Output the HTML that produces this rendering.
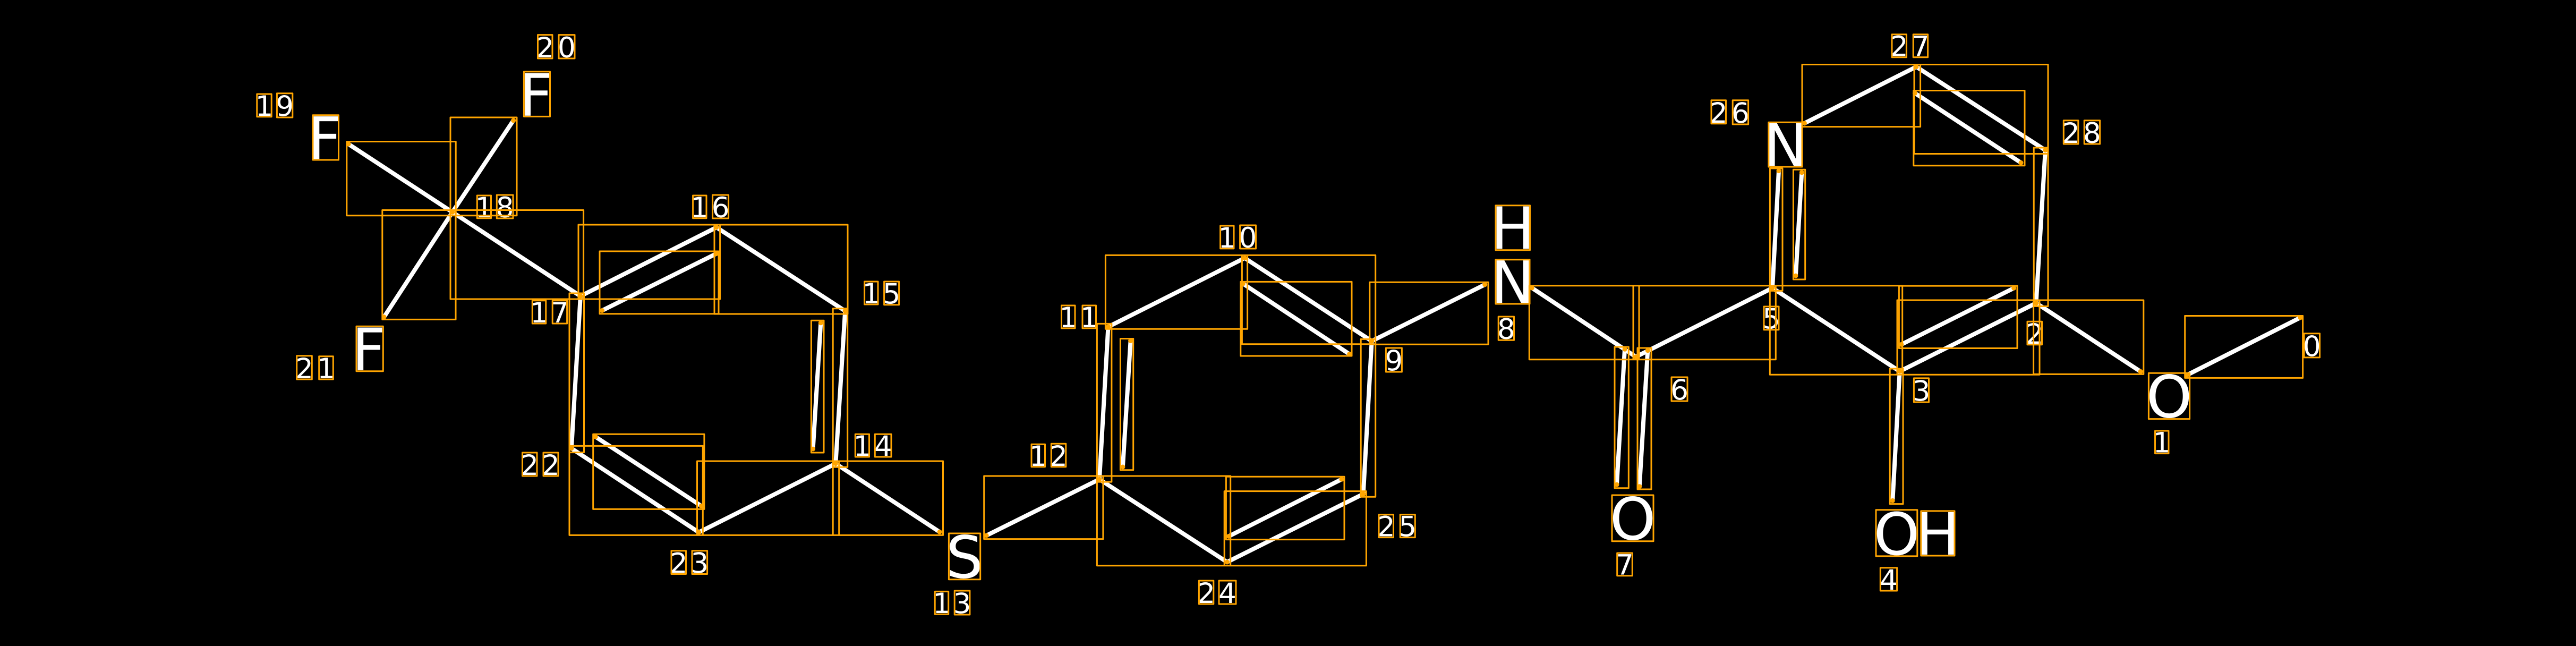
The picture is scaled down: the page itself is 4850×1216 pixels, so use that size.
<!DOCTYPE html>
<html><head><meta charset="utf-8"><style>
html,body{margin:0;padding:0;background:#000;width:4850px;height:1216px;overflow:hidden}
svg{display:block}
text{font-family:"DejaVu Sans",sans-serif;fill:#fff;text-anchor:middle}
.d{font-size:53px}.b{font-size:110px}
</style></head><body>
<svg xmlns="http://www.w3.org/2000/svg" width="4850" height="1216" viewBox="0 0 4850 1216">
<rect width="4850" height="1216" fill="#000"/>
<path fill="none" stroke="#fff" stroke-width="8" stroke-linecap="round" d="
M4331.1 597.8L4117.5 706M3833.7 570.5L4030.1 699.4M3833.5 570.5L3576.7 699M3791.6 542.3L3579.8 648.4M3576.7 699L3563.3 942.4M3337 542L3576.7 699M3337.3 542L3080 671.7M3059 657.3L3044 912.3M3102.3 659.7L3086.7 915.7M2884.3 542L3080 671.7M2795.7 535.7L2582.7 642M3349 321.6L3337 542M3392.3 324.7L3380.9 519.1M3397.4 232L3607.9 125.7M3607.9 125.7L3850.9 282.6M3605.4 175.4L3805 306.3M3850.9 282.6L3833.5 570.5
M2582.7 642L2343.5 485.7M2340.3 533.9L2540.6 666.5M2343.5 485.7L2086.5 615.2M2086.5 615.2L2069.9 902.2M2128.6 641.5L2113.9 879M2069.9 902.2L2310.3 1058M2310.3 1058L2566.7 929.9M2525.9 902.2L2313.5 1009.4M2566.7 929.9L2582.7 642M2069.9 902.2L1857.1 1008.1
M1769.1 1001.3L1573.3 872.7M1573.3 872.7L1315.7 1002M1315.7 1002L1075.9 844M1121.2 822.2L1320.2 952.3M1075.9 844L1092.9 557.4M1573.3 872.7L1591.2 585.3M1545.3 607.8L1530.6 845.1M1591.2 585.3L1349 428M1349 428L1092.9 557.4M1348 477.8L1133.7 584.5M1092.9 557.4L851.8 399.3M851.8 399.3L656 271.1M851.8 399.3L966.6 226.7M851.8 399.3L723 596.8"/>
<g class="d">
<text class="d" x="4352.75" y="670.5">0</text>
<text class="d" x="4070.25" y="851.6">1</text>
<text class="d" x="3830.75" y="646.8">2</text>
<text class="d" x="3617.45" y="754.5">3</text>
<text class="d" x="3555.95" y="1110">4</text>
<text class="d" x="3335" y="618.5">5</text>
<text class="d" x="3162" y="752.5">6</text>
<text class="d" x="3059" y="1081.7">7</text>
<text class="d" x="2835.85" y="638">8</text>
<text class="d" x="2624.4" y="697.5">9</text>
<text class="d" x="2310.3" y="465.9">1</text><text class="d" x="2349.55" y="466">0</text>
<text class="d" x="2011.25" y="615.9">1</text><text class="d" x="2050.75" y="615.9">1</text>
<text class="d" x="1954.75" y="876.8">1</text><text class="d" x="1993.05" y="876.8">2</text>
<text class="d" x="1772.95" y="1154.2">1</text><text class="d" x="1811.55" y="1154.5">3</text>
<text class="d" x="1623.4" y="858">1</text><text class="d" x="1662.65" y="858">4</text>
<text class="d" x="1640.3" y="571">1</text><text class="d" x="1678.6" y="571.5">5</text>
<text class="d" x="1317.3" y="408.8">1</text><text class="d" x="1356.6" y="408.8">6</text>
<text class="d" x="1015" y="607">1</text><text class="d" x="1053.9" y="607">7</text>
<text class="d" x="911.4" y="408.8">1</text><text class="d" x="950.65" y="408.8">8</text>
<text class="d" x="497.5" y="217.8">1</text><text class="d" x="536.1" y="218.5">9</text>
<text class="d" x="1026.25" y="108">2</text><text class="d" x="1067" y="108">0</text>
<text class="d" x="573" y="712">2</text><text class="d" x="614" y="712">1</text>
<text class="d" x="997.25" y="894">2</text><text class="d" x="1037" y="894">2</text>
<text class="d" x="1277.75" y="1078.5">2</text><text class="d" x="1317.3" y="1078.3">3</text>
<text class="d" x="2271.1" y="1135">2</text><text class="d" x="2311" y="1135">4</text>
<text class="d" x="2609.75" y="1009.6">2</text><text class="d" x="2650.25" y="1009.5">5</text>
<text class="d" x="3235.75" y="230.8">2</text><text class="d" x="3276.9" y="231.5">6</text>
<text class="d" x="3575.7" y="105.7">2</text><text class="d" x="3615.9" y="105.7">7</text>
<text class="d" x="3899.05" y="269">2</text><text class="d" x="3938.9" y="269">8</text>
<text class="b" x="611.25" y="299">F</text>
<text class="b" x="1009" y="217.4">F</text>
<text class="b" x="694.2" y="696.7">F</text>
<text class="b" x="1816" y="1087.5">S</text>
<text class="b" x="2848.25" y="468.7">H</text>
<text class="b" x="2848" y="570">N</text>
<text class="b" x="3074" y="1015.5">O</text>
<text class="b" x="4084" y="785.5">O</text>
<text class="b" x="3570.9" y="1043.8">O</text>
<text class="b" x="3648.4" y="1044">H</text>
<text class="b" x="3361.4" y="312">N</text>
</g>
<path fill="none" stroke="#ffa500" stroke-width="3" stroke-linejoin="round" d="
M4113.7 594.5H4335.6V711.4H4113.7ZM3828.6 565H4035.8V704.4H3828.6ZM3572 565H3840V705.2H3572ZM3575.4 538.1H3798V655.5H3575.4ZM3558.2 694H3583V948.6H3558.2ZM3332.3 537.7H3581.7V705.3H3332.3ZM3075 537.7H3343.3V676.7H3075ZM3040 653H3066.3V918.7H3040ZM3083 655H3109V921H3083ZM2879.3 537.7H3086V676.7H2879.3ZM2578.8 531.3H2802V648.2H2578.8ZM3332.4 317H3356V547.4H3332.4ZM3376.4 319.3H3398.7V526H3376.4ZM3393 121.5H3615.6V238.6H3393ZM3604 121.5H3856V289.5H3604ZM3602.8 170.5H3812V311.7H3602.8ZM3829.2 278H3856V576.5H3829.2Z
M2338.4 480.4H2589.7V647.8H2338.4ZM2335.8 530.4H2545V670H2335.8ZM2081.4 480.4H2348.6V619.2H2081.4ZM2065.4 609.4H2092.9V907.1H2065.4ZM2109.4 637.5H2133.7V884.8H2109.4ZM2065.4 896H2316.7V1064.7H2065.4ZM2305.2 924.6H2572.4V1064.7H2305.2ZM2308.4 897.3H2531V1015.6H2308.4ZM2562.2 638.4H2589.7V935.3H2562.2ZM1852.7 896H2076.9V1014.6H1852.7Z
M1568.2 868H1775.5V1007.4H1568.2ZM1312.5 868H1579.7V1007.4H1312.5ZM1072 839.4H1323.3V1007.4H1072ZM1116.7 817.2H1325.9V958.4H1116.7ZM1072 552H1099.5V851.6H1072ZM1568.2 580.7H1595.7V879.2H1568.2ZM1527.4 603.2H1551V852H1527.4ZM1345 423H1596V591H1345ZM1089 423H1355.6V563H1089ZM1129 473H1353V590.7H1129ZM848 395.5H1098.6V563H848ZM652.8 266.5H858.2V405.8H652.8ZM848 221H973V405.8H848ZM719.8 395.5H858V601.4H719.8Z
M4338 627.7H4367.5V672.9H4338ZM4057.5 811H4083V853.6H4057.5ZM3817 605.3H3844.5V648.8H3817ZM3603.4 711.9H3631.5V757H3603.4ZM3540.3 1068.8H3571.6V1112H3540.3ZM3321 577H3349V620.7H3321ZM3147 710H3177V755H3147ZM3044.7 1041H3073.3V1083.7H3044.7ZM2821.2 596H2850.5V640.2H2821.2ZM2609.4 655H2639.4V700H2609.4Z
M2297.6 425H2323V467.9H2297.6ZM2334.6 424H2364.5V468H2334.6ZM1998.5 575H2024V617.9H1998.5ZM2038 575H2063.5V617.9H2038ZM1942 836.3H1967.5V878.8H1942ZM1979.3 835.3H2006.8V878.8H1979.3ZM1760.2 1113.4H1785.7V1156.2H1760.2ZM1797.2 1112H1825.9V1157H1797.2ZM1610.3 817.2H1636.5V860H1610.3ZM1647.3 817.2H1678V860H1647.3ZM1627.6 530H1653V573H1627.6ZM1664.6 530H1692.6V573.8H1664.6ZM1304.6 368H1330V410.8H1304.6ZM1341.6 367H1371.6V411H1341.6ZM1002.3 565.8H1027.8V609H1002.3ZM1040.2 565.8H1067.6V609H1040.2ZM898.3 368H924.5V410.8H898.3ZM935.3 367H966V411H935.3ZM483.8 177H511.2V219.8H483.8ZM521.4 175.8H550.8V221H521.4Z
M1012.5 65.6H1040V110H1012.5ZM1052 65.6H1082V110H1052ZM558.7 669.7H587.3V714H558.7ZM600.7 670.7H627.3V714H600.7ZM983.5 852H1011V896H983.5ZM1023 852H1051V896H1023ZM1264 1036.8H1291.5V1080.5H1264ZM1303 1036.8H1331.6V1080.5H1303ZM2257.4 1093H2284.8V1137H2257.4ZM2295 1093H2327V1137H2295ZM2596 968.8H2623.5V1011.6H2596ZM2636.2 968.8H2664.3V1011.6H2636.2ZM3222 188.8H3249.5V232.8H3222ZM3262.2 188.8H3291.6V234H3262.2ZM3562 64.8H3589.4V107.7H3562ZM3602.2 64.8H3629.6V107.7H3602.2ZM3885.3 226.7H3912.8V271H3885.3ZM3924.2 226.7H3953.6V271H3924.2Z
M589 216.8H637.5V301H589ZM986.4 134.9H1035.5V219.4H986.4ZM671 614.3H721.3V698.7H671ZM1786.4 1004H1845.7V1090.8H1786.4ZM2816 386.7H2880.5V470.7H2816ZM2816 488.7H2880V572H2816ZM3035 932H3113V1018.7H3035ZM4045.4 702.3H4122.6V788.6H4045.4ZM3532 959.8H3609.8V1046.9H3532ZM3616.8 961.9H3680V1046H3616.8ZM3329.8 230.2H3393V314H3329.8Z"/>
<path fill="none" stroke="#ffa500" stroke-width="9" stroke-linecap="round" d="
M4331.1 597.8h0M4117.5 706h0M3833.7 570.5h0M4030.1 699.4h0M3576.7 699h0M3791.6 542.3h0M3579.8 648.4h0M3563.3 942.4h0M3337 542h0M3080 671.7h0M3059 657.3h0M3044 912.3h0M3102.3 659.7h0M3086.7 915.7h0M2884.3 542h0M2795.7 535.7h0M2582.7 642h0M3349 321.6h0M3392.3 324.7h0M3380.9 519.1h0M3397.4 232h0M3607.9 125.7h0M3850.9 282.6h0M3605.4 175.4h0M3805 306.3h0
M2343.5 485.7h0M2340.3 533.9h0M2540.6 666.5h0M2086.5 615.2h0M2069.9 902.2h0M2128.6 641.5h0M2113.9 879h0M2310.3 1058h0M2566.7 929.9h0M2525.9 902.2h0M2313.5 1009.4h0M1857.1 1008.1h0
M1769.1 1001.3h0M1573.3 872.7h0M1315.7 1002h0M1075.9 844h0M1121.2 822.2h0M1320.2 952.3h0M1092.9 557.4h0M1591.2 585.3h0M1545.3 607.8h0M1530.6 845.1h0M1349 428h0M1348 477.8h0M1133.7 584.5h0M851.8 399.3h0M656 271.1h0M966.6 226.7h0M723 596.8h0"/>
</svg>
</body></html>
